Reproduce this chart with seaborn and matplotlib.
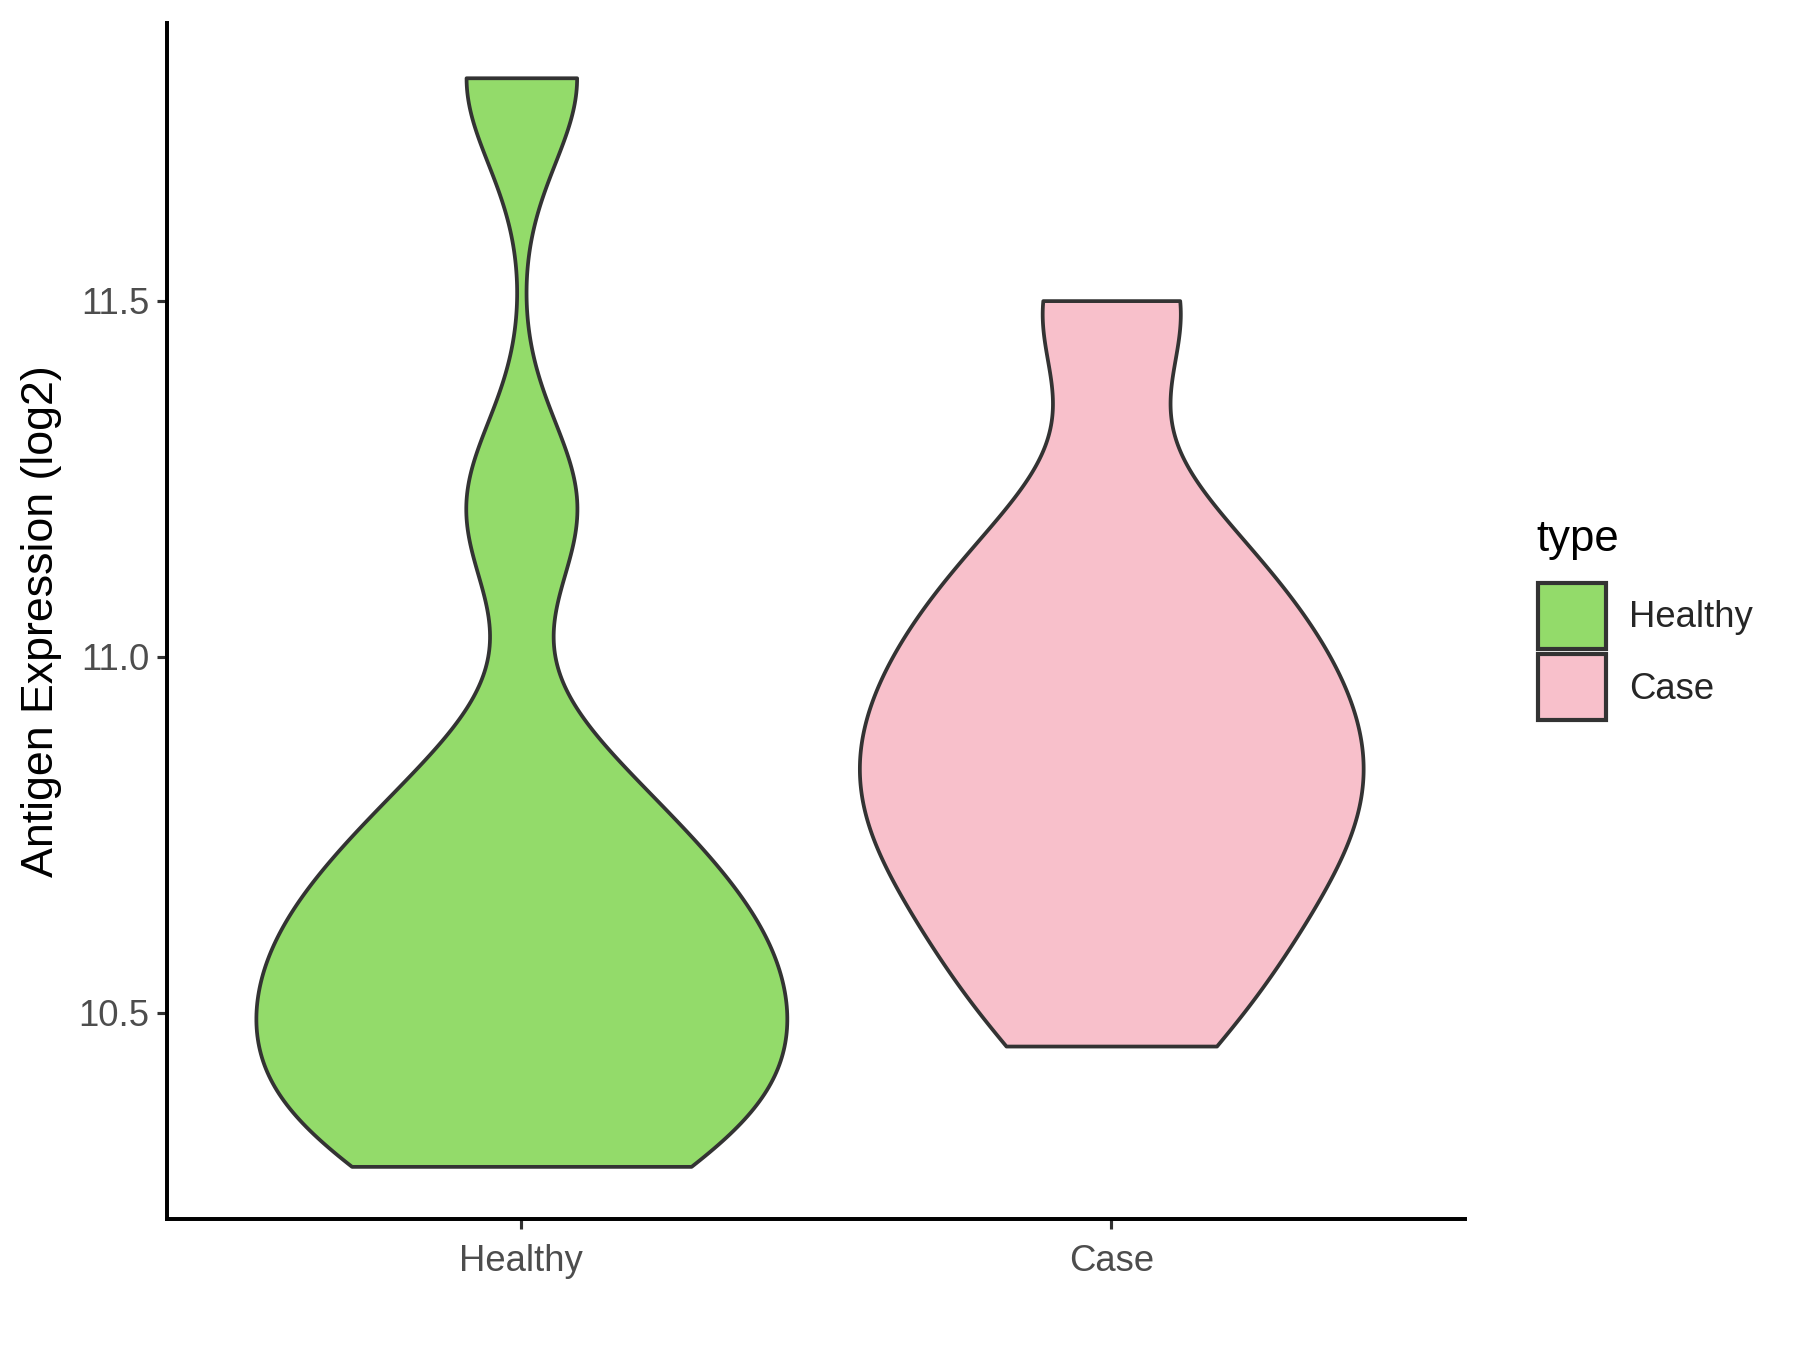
import matplotlib
matplotlib.use("Agg")
import matplotlib.pyplot as plt
from matplotlib.patches import Patch
import seaborn as sns
import numpy as np

categories = ["Healthy", "Case"]
healthy_values = [10.284, 10.34, 10.40, 10.46, 10.52, 10.58, 10.64, 10.71, 10.82, 11.21, 11.813]
case_values = [10.453, 10.50, 10.575, 10.632, 10.68, 10.722, 10.76, 10.797, 10.833, 10.869,
               10.906, 10.945, 10.985, 11.03, 11.08, 11.135, 11.205, 11.49, 11.5]
colors = ["#93DB6A", "#F8C0CB"]

# style: kernel bandwidths and max violin widths (area-scaled as in the original)
bandwidths = [0.12, 0.12]
max_widths = [0.9, 0.854]


def fixed_bw(bw):
    def factor(kde):
        return bw / np.std(np.asarray(kde.dataset).ravel(), ddof=1)
    return factor


sns.set_style("ticks")
plt.rcParams["font.family"] = ["Liberation Sans", "DejaVu Sans"]

fig = plt.figure(figsize=(12, 9), dpi=150)
ax = fig.add_axes([0.093, 0.097, 0.721, 0.886])

for cat, vals, col, bw, w in zip(categories, [healthy_values, case_values], colors,
                                 bandwidths, max_widths):
    sns.violinplot(x=[cat] * len(vals), y=vals, order=categories, color=col,
                   cut=0, inner=None, density_norm="area", width=w,
                   linewidth=1.8, linecolor="#333333", bw_method=fixed_bw(bw),
                   gridsize=300, saturation=1, ax=ax)

ax.set_xlim(-0.6, 1.6)
ax.set_ylim(10.21, 11.89)
ax.set_yticks([10.5, 11.0, 11.5])
ax.set_yticklabels(["10.5", "11.0", "11.5"])
ax.set_xlabel("")
ax.set_ylabel("Antigen Expression (log2)", fontsize=21.5, color="black", labelpad=8)
ax.tick_params(axis="both", labelsize=17.5, labelcolor="#4D4D4D", color="#333333",
               length=5, width=1.5)
ax.tick_params(axis="x", pad=7)
for s in ["top", "right"]:
    ax.spines[s].set_visible(False)
for s in ["left", "bottom"]:
    ax.spines[s].set_linewidth(1.9)
    ax.spines[s].set_color("black")

handles = [Patch(facecolor=c, edgecolor="#333333", linewidth=2.0) for c in colors]
fig.text(0.8535, 0.600, "type", fontsize=21, va="center", ha="left", color="black")
fig.legend(handles, categories, loc="upper left",
           bbox_to_anchor=(0.8545, 0.568), frameon=False, fontsize=17.5,
           handlelength=1.85, handleheight=2.4,
           handletextpad=0.65, labelspacing=0.15, borderpad=0, borderaxespad=0)

fig.savefig("out.png", dpi=150)
